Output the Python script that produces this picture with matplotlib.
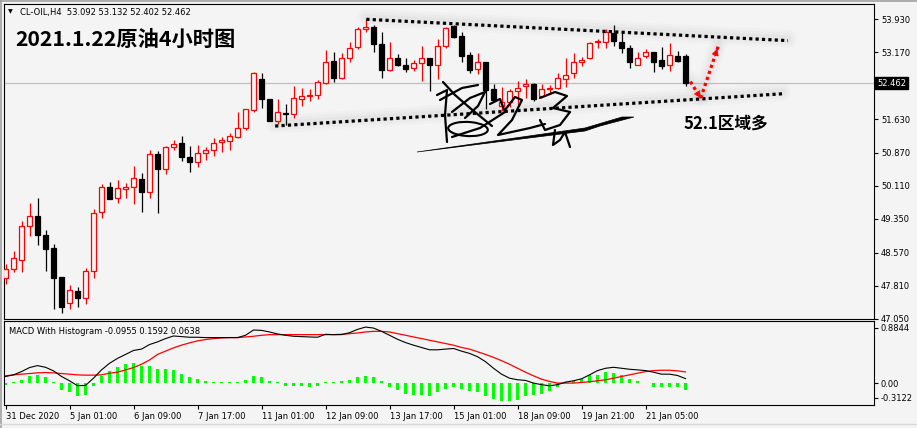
import matplotlib.pyplot as plt
import matplotlib.transforms as mtransforms
from matplotlib.patches import Rectangle, Polygon, Ellipse

plt.rcParams['font.family'] = ['DejaVu Sans', 'Noto Sans CJK SC']

# CL-OIL H4 candles, first bar = 31 Dec 2020
opens = [47.98, 48.19, 48.40, 49.18, 49.41, 48.98, 48.68, 48.02, 47.41, 47.69,
         47.54, 48.15, 49.51, 50.08, 49.83, 50.04, 50.08, 50.27, 49.96, 50.84,
         50.50, 51.00, 51.08, 50.76, 50.65, 50.86, 50.93, 51.12, 51.14, 51.23,
         51.43, 51.84, 52.55, 52.11, 51.60, 51.79, 51.76, 52.11, 52.16, 52.20,
         52.46, 52.97, 52.59, 53.05, 53.30, 53.70, 53.75, 53.36, 52.76, 53.04,
         52.88, 52.82, 52.92, 53.05, 52.89, 53.31, 53.78, 53.55, 53.11, 52.78,
         52.95, 52.34, 51.93, 52.02, 52.28, 52.39, 52.45, 52.18, 52.32, 52.36,
         52.57, 52.69, 52.96, 53.05, 53.40, 53.40, 53.62, 53.40, 53.26, 52.89,
         53.08, 53.17, 52.99, 52.87, 53.09, 53.092]
highs = [48.31, 48.60, 49.29, 49.72, 49.83, 49.10, 48.77, 48.02, 47.83, 47.79,
         48.22, 49.58, 50.15, 50.20, 50.25, 50.17, 50.57, 50.40, 50.94, 50.91,
         51.03, 51.15, 51.26, 51.01, 51.05, 50.99, 51.20, 51.23, 51.33, 51.81,
         51.88, 52.72, 52.69, 52.11, 52.11, 51.99, 52.39, 52.36, 52.32, 52.53,
         53.22, 53.18, 53.15, 53.40, 53.76, 53.93, 53.80, 53.63, 53.41, 53.13,
         53.03, 52.99, 53.32, 53.05, 53.48, 53.76, 53.80, 53.64, 53.19, 53.15,
         52.96, 52.45, 52.37, 52.32, 52.51, 52.57, 52.47, 52.45, 52.42, 52.69,
         53.03, 53.16, 53.07, 53.41, 53.48, 53.70, 53.80, 53.61, 53.34, 53.17,
         53.24, 53.18, 53.30, 53.39, 53.21, 53.132]
lows = [47.85, 48.12, 48.12, 48.95, 48.75, 48.15, 47.27, 47.19, 47.27, 47.33,
        47.40, 48.00, 49.37, 49.80, 49.71, 49.83, 49.69, 49.50, 49.82, 49.48,
        50.38, 50.93, 50.67, 50.42, 50.54, 50.70, 50.79, 50.88, 50.93, 51.20,
        51.40, 51.80, 51.89, 51.59, 51.53, 51.50, 51.67, 51.94, 52.06, 52.11,
        52.44, 52.49, 52.57, 52.95, 53.25, 53.63, 53.18, 52.59, 52.74, 52.85,
        52.72, 52.75, 52.52, 52.29, 52.55, 53.28, 53.50, 52.95, 52.69, 52.67,
        51.86, 52.05, 51.83, 51.92, 51.96, 52.13, 52.06, 52.15, 52.21, 52.33,
        52.38, 52.59, 52.85, 53.02, 53.26, 53.26, 53.32, 53.15, 52.82, 52.87,
        53.03, 52.72, 52.78, 52.75, 52.96, 52.402]
closes = [48.19, 48.45, 49.18, 49.41, 48.97, 48.65, 48.00, 47.33, 47.71, 47.54,
          48.15, 49.48, 50.08, 49.80, 50.06, 50.08, 50.29, 49.96, 50.84, 50.49,
          51.00, 51.07, 50.77, 50.65, 50.86, 50.92, 51.10, 51.16, 51.26, 51.44,
          51.86, 52.69, 52.10, 51.59, 51.81, 51.76, 52.13, 52.16, 52.20, 52.48,
          52.96, 52.59, 53.03, 53.26, 53.71, 53.75, 53.37, 52.76, 53.03, 52.88,
          52.79, 52.92, 53.05, 52.89, 53.31, 53.72, 53.53, 53.09, 52.76, 52.94,
          52.31, 52.07, 52.04, 52.28, 52.36, 52.45, 52.09, 52.32, 52.35, 52.59,
          52.66, 52.95, 52.99, 53.39, 53.43, 53.63, 53.44, 53.28, 52.94, 53.05,
          53.19, 52.95, 52.85, 53.12, 52.98, 52.462]

# MACD With Histogram
macd_line = [0.094, 0.117, 0.164, 0.221, 0.249, 0.225, 0.174, 0.094, 0.033, -0.038,
             -0.033, 0.070, 0.188, 0.282, 0.352, 0.408, 0.465, 0.484, 0.549, 0.587,
             0.634, 0.671, 0.662, 0.653, 0.653, 0.648, 0.648, 0.648, 0.648, 0.648,
             0.681, 0.756, 0.751, 0.728, 0.700, 0.681, 0.667, 0.662, 0.657, 0.653,
             0.695, 0.690, 0.690, 0.718, 0.765, 0.798, 0.784, 0.737, 0.681, 0.624,
             0.577, 0.540, 0.507, 0.474, 0.474, 0.484, 0.493, 0.455, 0.423, 0.376,
             0.305, 0.211, 0.127, 0.070, 0.047, 0.038, 0.000, -0.023, -0.038, -0.023,
             0.014, 0.033, 0.061, 0.117, 0.178, 0.211, 0.225, 0.211, 0.197, 0.188,
             0.178, 0.155, 0.127, 0.127, 0.108, 0.064]
signal_line = [0.103, 0.117, 0.127, 0.136, 0.146, 0.150, 0.146, 0.136, 0.127, 0.117,
               0.113, 0.113, 0.117, 0.141, 0.155, 0.188, 0.221, 0.268, 0.329, 0.408,
               0.455, 0.502, 0.540, 0.573, 0.601, 0.620, 0.634, 0.643, 0.648, 0.648,
               0.657, 0.667, 0.681, 0.690, 0.690, 0.690, 0.690, 0.690, 0.690, 0.690,
               0.690, 0.690, 0.695, 0.704, 0.714, 0.728, 0.737, 0.737, 0.728, 0.704,
               0.681, 0.657, 0.634, 0.610, 0.587, 0.563, 0.540, 0.507, 0.484, 0.446,
               0.408, 0.366, 0.319, 0.268, 0.211, 0.155, 0.103, 0.056, 0.023, 0.000,
               0.000, 0.000, 0.009, 0.019, 0.033, 0.047, 0.070, 0.094, 0.117, 0.141,
               0.164, 0.178, 0.183, 0.183, 0.174, 0.159]
histogram = [-0.033, 0.010, 0.047, 0.103, 0.117, 0.089, 0.019, -0.094, -0.131, -0.178,
             -0.164, -0.047, 0.094, 0.174, 0.235, 0.268, 0.282, 0.244, 0.244, 0.202,
             0.197, 0.192, 0.131, 0.089, 0.056, 0.023, 0.019, 0.009, 0.009, 0.009,
             0.038, 0.103, 0.089, 0.033, 0.009, -0.038, -0.038, -0.047, -0.056, -0.047,
             0.009, 0.009, 0.023, 0.042, 0.089, 0.099, 0.080, 0.023, -0.056, -0.103,
             -0.150, -0.164, -0.164, -0.178, -0.131, -0.080, -0.061, -0.080, -0.108, -0.127,
             -0.178, -0.225, -0.258, -0.258, -0.235, -0.188, -0.164, -0.150, -0.108, -0.061,
             0.010, 0.033, 0.061, 0.117, 0.117, 0.164, 0.141, 0.117, 0.056, 0.023,
             0.005, -0.061, -0.061, -0.061, -0.061, -0.0955]

time_labels = ['31 Dec 2020', '5 Jan 01:00', '6 Jan 09:00', '7 Jan 17:00', '11 Jan 01:00',
               '12 Jan 09:00', '13 Jan 17:00', '15 Jan 01:00', '18 Jan 09:00',
               '19 Jan 21:00', '21 Jan 05:00']
price_ticks = [53.930, 53.170, 51.630, 50.870, 50.110, 49.350, 48.570, 47.810, 47.050]
last_price = 52.462

# hand-drawn lines (bar index, price)
upper_x, upper_y = [45.1, 97.8], [53.93, 53.44]
lower_x, lower_y = [33.7, 97.1], [51.48, 52.22]
arrow_x, arrow_y = [85.6, 86.9, 89.1], [52.50, 52.12, 53.32]

W, H = 917, 428
bg = '#F4F4F4'
fs = 6.0
fig = plt.figure(figsize=(W / 100, H / 100), dpi=100, facecolor=bg)
ax = fig.add_axes([4 / W, 1 - 319 / H, 870 / W, 315 / H], facecolor=bg)
axm = fig.add_axes([4 / W, 1 - 405 / H, 870 / W, 84 / H], facecolor=bg, sharex=ax)

n = len(opens)
ax.axhline(last_price, color='#C0C0C0', lw=0.9, zorder=1)
for i in range(n):
    o, h, l, c = opens[i], highs[i], lows[i], closes[i]
    up = c > o
    col = 'red' if up else 'black'
    ax.vlines(i, l, h, color=col, lw=0.9, zorder=2)
    lo, hi = min(o, c), max(o, c)
    ax.add_patch(Rectangle((i - 0.26, lo), 0.52, max(hi - lo, 0.008),
                           facecolor=bg if up else 'black', edgecolor=col,
                           lw=0.9, zorder=3))

ax.set_xlim(-0.19, 108.56)
ax.set_ylim(47.056, 54.281)


def dotted(axis, xs, ys, color):
    # soft grey shadow + square-dot line
    for lw, a in [(13, 0.025), (9, 0.035), (5, 0.045)]:
        axis.plot(xs, [y + 0.04 for y in ys], color='#707070', lw=lw, alpha=a,
                  solid_capstyle='round', zorder=4)
    axis.plot(xs, ys, color=color, lw=2.3, linestyle=(0, (1, 1)),
              dash_capstyle='butt', zorder=5)


dotted(ax, upper_x, upper_y, 'black')
dotted(ax, lower_x, lower_y, 'black')
dotted(ax, arrow_x[:2], arrow_y[:2], 'red')
dotted(ax, arrow_x[1:], arrow_y[1:], 'red')
for k in (1, 2):
    x0, y0 = arrow_x[k - 1], arrow_y[k - 1]
    x1, y1 = arrow_x[k], arrow_y[k]
    ax.annotate('', xy=(x1, y1), xytext=(x1 - (x1 - x0) * 0.25, y1 - (y1 - y0) * 0.25),
                arrowprops=dict(arrowstyle='-|>', color='red', lw=0.5,
                                mutation_scale=11), zorder=6)

ax.text(84.7, 51.53, '52.1区域多', fontsize=12, fontweight='bold',
        family=['Noto Sans CJK SC'], va='center', ha='left', zorder=6)

# price scale
ax.yaxis.tick_right()
ax.set_yticks(price_ticks)
ax.set_yticklabels(['%.3f' % p for p in price_ticks])
ax.tick_params(axis='y', length=3, width=0.8, pad=2, labelsize=fs)
ax.tick_params(axis='x', bottom=False, labelbottom=False)
ax.text(1.0 + 3 / 870, last_price, '%.3f' % last_price,
        transform=mtransforms.blended_transform_factory(ax.transAxes, ax.transData),
        color='white', fontsize=fs, va='center', ha='left',
        bbox=dict(boxstyle='square,pad=0.2', fc='black', ec='black'))

# MACD panel
idx = list(range(n))
axm.bar(idx, histogram, width=0.4, color='#00FF00', zorder=2)
axm.plot(idx, signal_line, color='red', lw=0.9, zorder=3)
axm.plot(idx, macd_line, color='black', lw=0.8, zorder=4)
axm.set_ylim(-0.3122, 0.8844)
axm.yaxis.tick_right()
axm.set_yticks([0.785, 0.0, -0.212])
axm.set_yticklabels(['0.8844', '0.00', '-0.3122'])
axm.tick_params(axis='y', length=3, width=0.8, pad=2, labelsize=fs)
axm.set_xticks(list(range(0, 8 * len(time_labels), 8)))
axm.set_xticklabels(time_labels)
for lab in axm.get_xticklabels():
    lab.set_ha('left')
axm.tick_params(axis='x', length=3, width=0.8, pad=2, labelsize=fs)
axm.text(5 / 870, 0.87, 'MACD With Histogram -0.0955 0.1592 0.0638',
         transform=axm.transAxes, fontsize=fs, va='center', ha='left')

# header and title
fig.text(8 / W, 1 - 12 / H, '▼', fontsize=4.5, va='center', ha='left')
fig.text(20 / W, 1 - 12 / H, 'CL-OIL,H4  53.092 53.132 52.402 52.462',
         fontsize=fs, va='center', ha='left')
fig.text(15 / W, 1 - 39 / H, '2021.1.22原油4小时图', fontsize=15.3,
         fontweight='bold', family=['Noto Sans CJK SC'], va='center', ha='left')


# signature watermark (pixel coords)
def px(pts):
    return [(x / W, 1 - y / H) for x, y in pts]


fig.patches.append(Polygon(px([(417, 152), (585, 128), (622, 117), (634, 117),
                               (600, 126), (585, 131), (417, 152)]), closed=True,
                           fc='black', ec='black', lw=0.5,
                           transform=fig.transFigure, figure=fig))
strokes = [
    [(443, 82), (455, 95), (470, 108), (492, 126)],
    [(437, 95), (447, 90), (445, 115), (447, 142)],
    [(440, 100), (462, 88), (478, 85)],
    [(452, 112), (470, 98), (485, 92), (478, 106), (465, 118)],
    [(452, 137), (480, 128), (505, 112), (500, 99), (490, 104)],
    [(505, 110), (515, 97), (522, 100), (512, 120), (498, 135), (530, 128), (545, 124)],
    [(540, 98), (555, 92), (567, 96), (553, 108), (570, 112), (560, 125), (545, 130), (540, 120)],
    [(555, 130), (553, 145), (560, 140), (565, 132), (570, 147)],
]
for st in strokes:
    pts = px(st)
    fig.add_artist(plt.Line2D([p[0] for p in pts], [p[1] for p in pts],
                              color='black', lw=1.6, transform=fig.transFigure,
                              solid_capstyle='round', solid_joinstyle='round'))
fig.patches.append(Ellipse((468 / W, 1 - 129 / H), 40 / W, 14 / H, angle=-12,
                           fill=False, ec='black', lw=1.5,
                           transform=fig.transFigure, figure=fig))

# window border
fig.add_artist(plt.Line2D([0, 1], [1 - 1 / H, 1 - 1 / H], color='#A0A0A0', lw=1.2))
fig.add_artist(plt.Line2D([1 / W, 1 / W], [0, 1], color='#A0A0A0', lw=1.2))
fig.add_artist(plt.Line2D([0, 1], [1 - 424 / H, 1 - 424 / H], color='#D8D8D8', lw=1.0))

fig.savefig('out.png', dpi=100, facecolor=bg)
